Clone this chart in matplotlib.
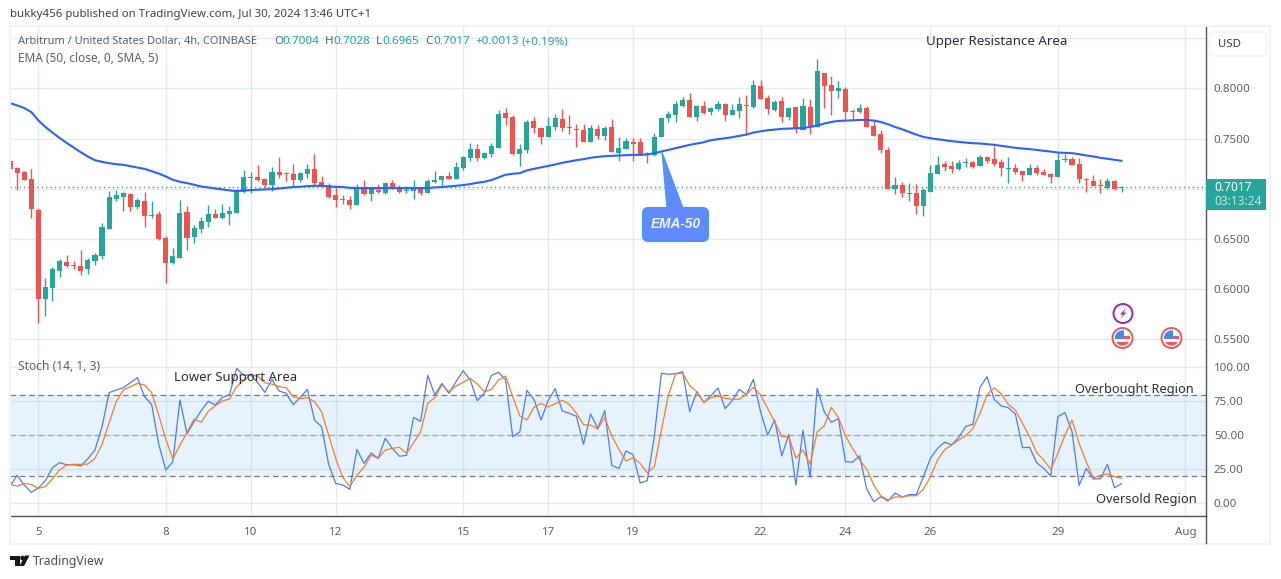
import matplotlib
matplotlib.use("Agg")
import matplotlib.pyplot as plt
from matplotlib.patches import Rectangle, FancyBboxPatch, Polygon, Circle

plt.rcParams["font.family"] = ["Noto Sans", "DejaVu Sans"]

W, H = 1281, 579

# candles, first one is the bar cut off by the left edge
opens = [
    .7278, .7209, .7169, .7100, .6792, .5898, .6011, .6186, .6275, .6236,
    .6226, .6196, .6285, .6335, .6603, .6901, .6921, .6951, .6821, .6881,
    .6732, .6752, .6514, .6265, .6315, .6772, .6524, .6603, .6673, .6752,
    .6712, .6752, .6762, .6970, .7109, .7119, .7100, .7040, .7169, .7156,
    .7149, .7090, .7149, .7199, .7070, .7040, .6941, .6901, .6891, .6841,
    .7020, .6951, .6990, .6961, .7060, .7010, .6980, .6980, .7010, .6961,
    .7067, .7090, .7130, .7100, .7209, .7309, .7398, .7309, .7348, .7408,
    .7755, .7716, .7348, .7388, .7676, .7606, .7517, .7616, .7696, .7616,
    .7597, .7587, .7467, .7597, .7527, .7616, .7358, .7398, .7467, .7467,
    .7358, .7338, .7517, .7706, .7736, .7825, .7885, .7716, .7825, .7765,
    .7795, .7845, .7736, .7775, .7835, .7815, .8023, .7904, .7785, .7875,
    .7716, .7815, .7587, .7815, .7616, .8153, .8033, .7974, .7994, .7775,
    .7765, .7805, .7626, .7547, .7388, .7001, .7040, .6951, .6961, .6832,
    .6971, .7150, .7249, .7229, .7199, .7259, .7269, .7229, .7318, .7299,
    .7269, .7199, .7209, .7179, .7140, .7209, .7170, .7150, .7120, .7289,
    .7299, .7249, .7100, .7080, .7040, .7011, .7080, .7004,
]
highs = [
    .7278, .7219, .7179, .7199, .6812, .6116, .6216, .6305, .6345, .6285,
    .6395, .6315, .6365, .6663, .6980, .6990, .6970, .6961, .6911, .6970,
    .6881, .6782, .6534, .6414, .6891, .6831, .6643, .6722, .6841, .6802,
    .6851, .6831, .7000, .7189, .7169, .7239, .7109, .7219, .7318, .7169,
    .7249, .7169, .7249, .7348, .7129, .7060, .7030, .6941, .6931, .7050,
    .7090, .7020, .7050, .7060, .7090, .7040, .7030, .7090, .7020, .7100,
    .7179, .7130, .7170, .7269, .7328, .7458, .7448, .7368, .7458, .7785,
    .7805, .7736, .7448, .7686, .7716, .7616, .7716, .7745, .7795, .7736,
    .7646, .7646, .7636, .7636, .7626, .7696, .7517, .7507, .7507, .7507,
    .7368, .7557, .7716, .7775, .7875, .7914, .7954, .7835, .7875, .7815,
    .7875, .7855, .7845, .7914, .7934, .8083, .8083, .7934, .7885, .7914,
    .7815, .7815, .7904, .7894, .8292, .8153, .8123, .8073, .8014, .7795,
    .7845, .7825, .7696, .7587, .7418, .7120, .7070, .7060, .7050, .7011,
    .7239, .7328, .7279, .7279, .7289, .7309, .7279, .7338, .7328, .7428,
    .7299, .7318, .7249, .7179, .7249, .7239, .7199, .7160, .7358, .7348,
    .7318, .7309, .7110, .7140, .7100, .7110, .7090, .7028,
]
lows = [
    .7199, .6990, .7090, .6712, .5660, .5729, .5878, .6126, .6216, .6196,
    .6146, .6156, .6236, .6305, .6603, .6881, .6782, .6782, .6802, .6623,
    .6712, .6494, .6057, .6255, .6315, .6395, .6464, .6563, .6623, .6712,
    .6702, .6643, .6762, .6961, .6961, .7080, .7010, .6980, .7109, .7080,
    .7030, .7070, .7109, .7040, .7020, .6911, .6821, .6851, .6802, .6841,
    .6941, .6881, .6961, .6951, .7000, .6961, .6961, .6901, .6941, .6961,
    .7060, .7017, .7100, .7100, .7189, .7279, .7279, .7299, .7318, .7408,
    .7636, .7338, .7229, .7358, .7557, .7448, .7517, .7587, .7577, .7547,
    .7418, .7467, .7467, .7497, .7487, .7368, .7279, .7398, .7279, .7338,
    .7259, .7328, .7517, .7666, .7666, .7815, .7716, .7676, .7745, .7736,
    .7775, .7676, .7736, .7706, .7537, .7805, .7894, .7745, .7775, .7666,
    .7686, .7557, .7587, .7547, .7616, .7805, .7736, .7904, .7696, .7696,
    .7755, .7616, .7527, .7358, .7001, .6951, .6921, .6882, .6752, .6733,
    .6971, .7150, .7179, .7160, .7189, .7219, .7209, .7229, .7259, .7229,
    .7130, .7060, .7150, .7080, .7140, .7140, .7140, .7060, .7120, .7269,
    .7239, .7060, .6971, .7030, .6961, .7001, .6991, .6965,
]
closes = [
    .7199, .7162, .7090, .6795, .5898, .6017, .6196, .6285, .6226, .6226,
    .6186, .6295, .6345, .6623, .6921, .6941, .6961, .6821, .6891, .6732,
    .6742, .6504, .6265, .6335, .6762, .6514, .6613, .6682, .6752, .6712,
    .6762, .6782, .6990, .7119, .7119, .7090, .7040, .7169, .7139, .7149,
    .7090, .7159, .7199, .7060, .7030, .6921, .6891, .6891, .6841, .7020,
    .6951, .7000, .6970, .7060, .7010, .6970, .6990, .7010, .6961, .7080,
    .7087, .7130, .7100, .7219, .7318, .7398, .7309, .7358, .7428, .7745,
    .7706, .7348, .7398, .7666, .7606, .7517, .7626, .7706, .7606, .7606,
    .7587, .7467, .7606, .7527, .7606, .7368, .7408, .7477, .7448, .7348,
    .7348, .7517, .7706, .7745, .7845, .7885, .7716, .7825, .7755, .7805,
    .7845, .7736, .7785, .7845, .7825, .8033, .7894, .7795, .7865, .7716,
    .7805, .7597, .7825, .7626, .8172, .8023, .7974, .8004, .7765, .7765,
    .7805, .7616, .7527, .7388, .7001, .7040, .6961, .6961, .6832, .6991,
    .7160, .7239, .7219, .7199, .7259, .7269, .7219, .7318, .7279, .7249,
    .7209, .7209, .7170, .7140, .7209, .7160, .7140, .7120, .7289, .7299,
    .7239, .7100, .7090, .7030, .7030, .7080, .7001, .7017,
]

ema50 = [
    .7854, .7831, .7805, .7765, .7682, .7616, .7560, .7507, .7457, .7411,
    .7364, .7321, .7285, .7268, .7255, .7245, .7239, .7225, .7212, .7199,
    .7176, .7152, .7123, .7090, .7070, .7057, .7040, .7023, .7013, .7003,
    .6994, .6984, .6977, .6984, .6987, .6990, .6994, .6997, .7003, .7010,
    .7017, .7020, .7027, .7030, .7030, .7023, .7020, .7017, .7010, .7007,
    .7007, .7007, .7007, .7007, .7007, .7007, .7007, .7007, .7007, .7007,
    .7014, .7017, .7024, .7031, .7037, .7047, .7060, .7070, .7087, .7113,
    .7140, .7150, .7156, .7183, .7199, .7213, .7226, .7242, .7259, .7272,
    .7285, .7295, .7309, .7318, .7325, .7328, .7332, .7335, .7338, .7338,
    .7342, .7355, .7371, .7388, .7405, .7421, .7438, .7451, .7464, .7484,
    .7494, .7504, .7514, .7527, .7540, .7560, .7573, .7583, .7590, .7597,
    .7600, .7603, .7606, .7616, .7630, .7650, .7666, .7676, .7679, .7683,
    .7686, .7686, .7679, .7666, .7643, .7616, .7593, .7567, .7540, .7517,
    .7504, .7494, .7484, .7474, .7467, .7461, .7454, .7451, .7444, .7438,
    .7428, .7418, .7408, .7401, .7395, .7388, .7378, .7371, .7361, .7358,
    .7355, .7345, .7332, .7322, .7309, .7299, .7289, .7279,
]

stoch_k = [
    12.7, 20.6, 13.5, 8.1, 11.3, 16.7, 26.2, 29.9, 28.4, 28.4,
    27.5, 32.8, 39.2, 56.4, 81.4, 83.3, 85.0, 88.7, 92.4, 78.4,
    72.8, 43.6, 24.5, 30.6, 76.0, 51.0, 60.0, 68.1, 75.0, 72.3,
    77.9, 79.9, 99.3, 94.1, 94.4, 88.7, 81.6, 91.2, 82.6, 80.9,
    72.5, 77.9, 83.8, 61.3, 56.4, 28.9, 14.7, 13.5, 10.3, 39.7,
    29.4, 37.0, 33.1, 47.8, 40.4, 34.6, 35.3, 63.2, 60.3, 94.1,
    79.7, 88.2, 80.9, 89.5, 97.5, 90.7, 75.5, 80.9, 94.1, 96.3,
    90.7, 49.0, 52.5, 83.1, 76.5, 61.3, 75.5, 84.3, 67.9, 66.2,
    64.0, 43.4, 65.7, 55.1, 68.1, 27.9, 25.7, 38.5, 35.8, 15.0,
    16.7, 49.0, 95.6, 94.9, 95.3, 96.8, 67.4, 82.1, 74.0, 79.2,
    84.8, 69.6, 75.5, 83.8, 79.9, 91.2, 67.4, 50.2, 61.3, 34.8,
    50.7, 13.5, 53.7, 19.1, 84.6, 67.4, 59.6, 62.3, 30.6, 30.4,
    35.0, 10.5, 1.2, 4.9, 1.7, 7.6, 4.7, 6.4, 6.4, 19.6,
    33.1, 40.4, 44.9, 43.1, 48.5, 56.6, 58.1, 85.3, 93.1, 76.5,
    71.6, 70.3, 65.7, 40.9, 41.2, 29.9, 25.7, 20.1, 63.7, 66.7,
    52.7, 13.2, 25.7, 17.9, 18.1, 28.7, 11.5, 14.5,
]
stoch_d = [
    14.0, 12.7, 14.5, 14.0, 11.0, 12.3, 18.1, 24.5, 28.2, 28.7,
    28.7, 28.9, 33.1, 43.4, 59.3, 74.8, 83.3, 85.8, 88.2, 87.0,
    81.4, 65.0, 47.1, 32.6, 42.9, 52.0, 62.0, 59.6, 67.6, 71.8,
    75.2, 76.7, 85.8, 90.0, 95.1, 93.1, 88.7, 87.7, 85.8, 85.0,
    78.4, 77.0, 77.7, 74.8, 67.4, 50.2, 33.1, 19.1, 12.3, 20.8,
    26.5, 35.5, 33.1, 39.2, 40.4, 41.2, 36.8, 44.6, 52.7, 73.5,
    77.7, 87.0, 82.1, 86.3, 89.0, 91.9, 87.7, 82.1, 83.8, 90.7,
    93.6, 78.4, 64.2, 61.3, 70.6, 73.5, 70.8, 73.3, 75.7, 72.8,
    66.2, 57.8, 57.6, 54.7, 63.0, 49.5, 39.7, 31.1, 33.6, 29.4,
    22.5, 27.0, 53.9, 79.7, 95.1, 95.8, 86.5, 82.1, 74.3, 77.7,
    78.9, 77.2, 76.5, 76.5, 80.1, 85.3, 79.7, 69.9, 60.0, 49.0,
    49.0, 33.1, 39.2, 28.7, 52.5, 56.9, 70.6, 63.0, 49.5, 40.4,
    31.9, 25.2, 13.5, 5.4, 2.5, 4.7, 4.7, 5.6, 5.6, 10.3,
    19.6, 31.9, 39.5, 42.9, 46.6, 49.8, 55.1, 66.2, 79.7, 85.0,
    80.4, 72.8, 68.6, 58.8, 49.0, 37.3, 31.9, 25.0, 36.8, 50.2,
    61.3, 44.1, 30.6, 18.6, 20.6, 21.6, 19.6, 18.4,
]

# bar number of each date label, bar 0 is the cut off one
date_bars = [4, 22, 34, 46, 64, 76, 88, 106, 118, 130, 148, 166]
date_labels = ["5", "8", "10", "12", "15", "17", "19", "22", "24", "26", "29", "Aug"]
price_ticks = [0.55, 0.60, 0.65, 0.70, 0.75, 0.80, 0.85]
price_labels = ["0.5500", "0.6000", "0.6500", "", "0.7500", "0.8000", ""]
stoch_ticks = [0, 25, 50, 75, 100]
stoch_labels = ["0.00", "25.00", "50.00", "75.00", "100.00"]

UP = "#26a69a"
DOWN = "#ef5350"
GRID = "#e3ebf2"
FRAME = "#f0f3fa"
DARK = "#50535e"
TEXT = "#5d606b"


def box(x0, y0, x1, y1):
    return [x0 / W, 1 - y1 / H, (x1 - x0) / W, (y1 - y0) / H]


fig = plt.figure(figsize=(W / 100, H / 100), dpi=100, facecolor="white")

ax = fig.add_axes(box(10, 27, 1205.5, 350.5))
ax2 = fig.add_axes(box(10, 351, 1205.5, 516))

for a in (ax, ax2):
    a.set_xlim(0, 168.85)
    a.set_xticks(date_bars)
    a.grid(True, color=GRID, lw=1.0)
    a.set_axisbelow(True)
    a.yaxis.tick_right()
    for s in a.spines.values():
        s.set_visible(False)
    a.spines["right"].set_visible(True)
    a.spines["right"].set_color(DARK)
    a.spines["right"].set_linewidth(1.0)
    a.tick_params(length=0, labelsize=8.3, labelcolor=TEXT, pad=6)

ax.set_ylim(0.5389, 0.8612)
ax.set_yticks(price_ticks)
ax.set_yticklabels(price_labels)
ax.tick_params(axis="x", labelbottom=False)

bars = range(len(closes))
for i in bars:
    col = UP if closes[i] >= opens[i] else DOWN
    ax.vlines(i, lows[i], highs[i], color=col, lw=1.0, zorder=3)
    bottom = min(opens[i], closes[i])
    height = max(abs(closes[i] - opens[i]), 0.0008)
    ax.bar(i, height, bottom=bottom, width=0.72, color=col, lw=0, zorder=4)

ax.plot(bars, ema50, color="#2962ff", lw=1.5, zorder=5, solid_capstyle="round")
ax.axhline(closes[-1], color=UP, lw=1.0, ls=(0, (1, 2.2)), zorder=2)

ax2.set_ylim(-9.3, 112)
ax2.set_yticks(stoch_ticks)
ax2.set_yticklabels(stoch_labels)
ax2.set_xticklabels(date_labels)
ax2.tick_params(axis="x", pad=8)
ax2.spines["bottom"].set_visible(True)
ax2.spines["bottom"].set_color(DARK)
ax2.spines["bottom"].set_linewidth(1.0)
ax2.axhspan(20, 80, color="#2196f3", alpha=0.11, lw=0, zorder=1)
ax2.axhline(80, color="#787b86", lw=0.9, ls=(0, (4.5, 3)), zorder=2)
ax2.axhline(50, color="#a0a3ae", lw=0.9, ls=(0, (4.5, 3)), zorder=2)
ax2.axhline(20, color="#787b86", lw=0.9, ls=(0, (4.5, 3)), zorder=2)
ax2.plot(bars, stoch_k, color="#4a7bf7", lw=0.9, zorder=4)
ax2.plot(bars, stoch_d, color="#ff7a1f", lw=0.9, zorder=5)

# everything else is laid out in image pixels
top = fig.add_axes([0, 0, 1, 1], zorder=10)
top.set_xlim(0, W)
top.set_ylim(H, 0)
top.axis("off")
top.patch.set_alpha(0)

top.add_patch(Rectangle((9.5, 26), 1260, 518, fill=False, ec=FRAME, lw=1.6))
top.plot([1205.5, 1205.5], [516, 543], color=DARK, lw=1.0)
top.add_patch(FancyBboxPatch((1209.5, 32), 57, 24, boxstyle="round,pad=0,rounding_size=4",
                             fc="white", ec=FRAME, lw=1.2))
top.text(1218, 44.5, "USD", fontsize=8.2, color="#3c3f4a", va="center")

top.text(10, 14, "bukky456 published on TradingView.com, Jul 30, 2024 13:46 UTC+1",
         fontsize=8.25, color="#3f424c", va="center")
top.text(18, 41.5, "Arbitrum / United States Dollar, 4h, COINBASE",
         fontsize=7.95, color=TEXT, va="center")
top.text(18, 58.5, "EMA (50, close, 0, SMA, 5)", fontsize=8.5, color=TEXT, va="center")
legend_items = [
    (274, "O", TEXT), (282, "0.7004", UP), (325, "H", TEXT), (333, "0.7028", UP),
    (376, "L", TEXT), (382, "0.6965", UP), (425.5, "C", TEXT), (433, "0.7017", UP),
    (475, "+0.0013", UP), (522, "(+0.19%)", UP),
]
for x, s, c in legend_items:
    top.text(x, 41.5, s, fontsize=8.4, color=c, va="center")
top.text(18, 367, "Stoch (14, 1, 3)", fontsize=8.7, color=TEXT, va="center")

note_col = "#2b2e38"
top.text(926, 41.5, "Upper Resistance Area", fontsize=9.55, color=note_col, va="center")
top.text(174, 377.5, "Lower Support Area", fontsize=9.45, color=note_col, va="center")
top.text(1075, 389.5, "Overbought Region", fontsize=9.2, color=note_col, va="center")
top.text(1096, 499.5, "Oversold Region", fontsize=9.3, color=note_col, va="center")

# last price tag
top.add_patch(Rectangle((1205.5, 179), 60.5, 31, fc=UP, ec="none"))
top.text(1214, 187.5, "0.7017", fontsize=8.6, fontweight="bold", color="white", va="center")
top.text(1214, 201.5, "03:13:24", fontsize=8.6, color="#c5e8e4", va="center")

# EMA-50 callout
call_fc = "#5f8bff"
call_ec = "#3f9fdc"
top.add_patch(Polygon([(662, 152), (667, 208), (683, 208)], closed=True, fc=call_fc, ec=call_ec, lw=0.8))
top.add_patch(FancyBboxPatch((642.5, 207.5), 66, 34, boxstyle="round,pad=0,rounding_size=6",
                             fc=call_fc, ec=call_ec, lw=0.8))
top.add_patch(Polygon([(663.5, 156), (668, 210), (682, 210)], closed=True, fc=call_fc, ec="none"))
top.text(675.5, 224.5, "EMA-50", fontsize=9.8, style="italic", fontweight="bold",
         family="Liberation Sans", color="#eef3ff", ha="center", va="center")

# event icons
top.add_patch(Circle((1123, 313.5), 9.5, fc="white", ec="#9c27b0", lw=1.4))
top.add_patch(Polygon([(1126, 308), (1120, 314.5), (1123, 314.5), (1120, 319), (1126.5, 312.5), (1123.5, 312.5)],
                      closed=True, fc="#9c27b0", ec="none"))
for cx in (1122.5, 1171.5):
    cy = 338
    top.add_patch(Circle((cx, cy), 10, fc="white", ec="#f0555a", lw=1.4))
    clip = Circle((cx, cy), 7.6, transform=top.transData)
    flag = [
        Rectangle((cx - 8, cy - 2.5), 16, 3.5, fc="#f0555a", ec="none"),
        Rectangle((cx - 8, cy + 3.5), 16, 5, fc="#f0555a", ec="none"),
        Rectangle((cx - 8, cy - 8), 9, 8.5, fc="#3d8bf0", ec="none"),
    ]
    for piece in flag:
        top.add_patch(piece)
        piece.set_clip_path(clip)

# TradingView mark
top.add_patch(Polygon([(10, 555.5), (19.5, 555.5), (19.5, 566), (15, 566), (15, 560), (10, 560)],
                      closed=True, fc="#131722", ec="none"))
top.add_patch(Circle((22.5, 558), 2.3, fc="#131722", ec="none"))
top.add_patch(Polygon([(24, 566), (19.5, 566), (25, 555.5), (29.5, 555.5)], closed=True, fc="#131722", ec="none"))
top.text(33, 561.5, "TradingView", fontsize=8.8, color="#4a4d57", va="center")

fig.savefig("out.png", dpi=100, facecolor="white")
